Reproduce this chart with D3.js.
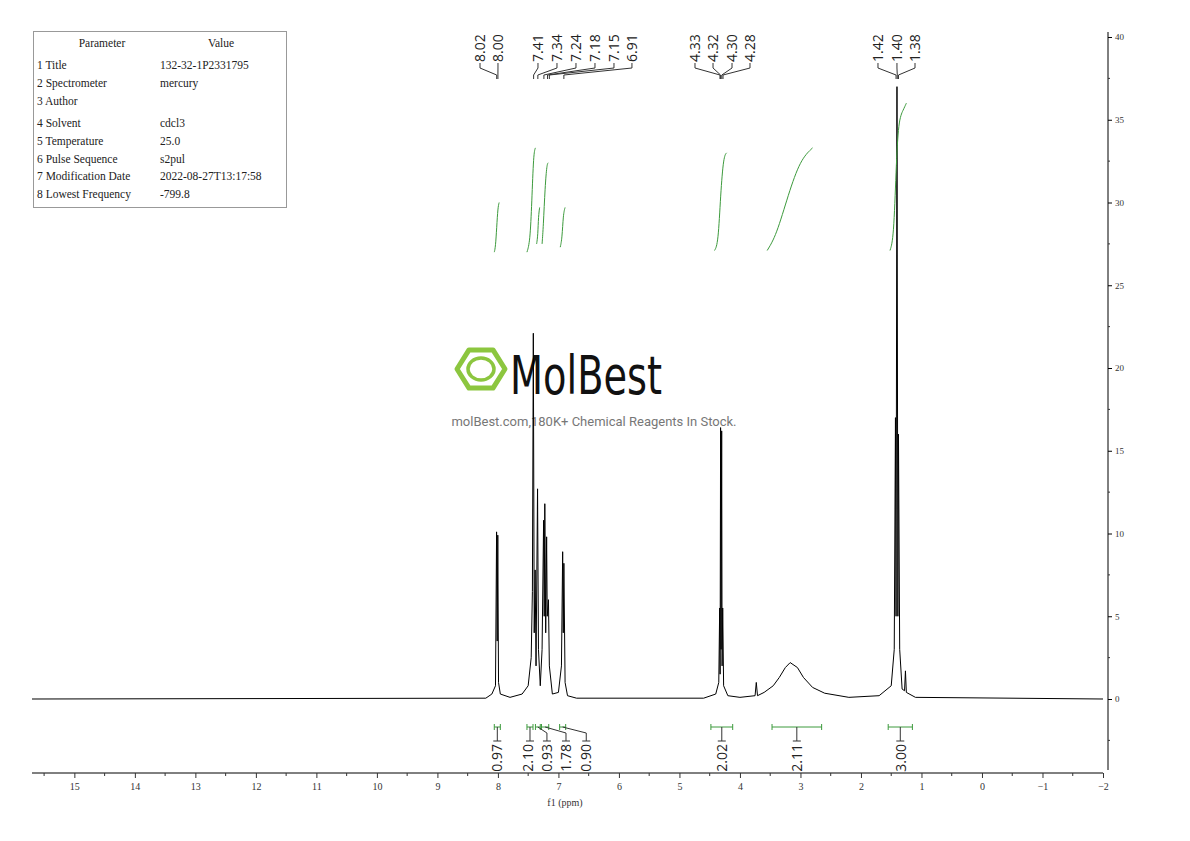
<!DOCTYPE html>
<html><head><meta charset="utf-8">
<script src="https://cdn.jsdelivr.net/npm/d3@7"></script>
<style>body{margin:0;background:#fff}</style></head>
<body><div id="chart"></div>
<script>
// spectrum vertices [ppm, intensity]
const spectrum = [[15.7,0],[8.2,0.05],[8.1,0.3],[8.04,0.8],[8.022,10.1],[8.012,3.5],[8.002,9.9],[7.99,1],[7.96,0.3],[7.8,0.1],[7.6,0.3],[7.5,0.8],[7.45,2.5],[7.43,6.5],[7.415,22.1],[7.40,4],[7.385,7.8],[7.37,2],[7.345,12.7],[7.33,3],[7.3,0.8],[7.27,3],[7.245,10.8],[7.235,5],[7.225,11.8],[7.21,4],[7.195,9.8],[7.185,5],[7.165,6],[7.15,2],[7.1,0.3],[7.0,0.4],[6.95,2],[6.93,8.9],[6.92,4],[6.91,8.2],[6.89,1],[6.85,0.2],[6.7,0.05],[4.6,0.05],[4.4,0.3],[4.35,1],[4.335,5.5],[4.328,1.5],[4.32,16.4],[4.312,3],[4.302,16.2],[4.295,2],[4.285,5.5],[4.27,0.8],[4.2,0.2],[4.0,0.1],[3.75,0.2],[3.73,1.0],[3.71,0.2],[3.6,0.4],[3.45,0.8],[3.35,1.3],[3.25,1.9],[3.17,2.2],[3.05,1.9],[2.95,1.3],[2.8,0.7],[2.6,0.35],[2.2,0.1],[1.7,0.2],[1.5,0.8],[1.45,3],[1.43,17],[1.42,5],[1.405,37],[1.39,5],[1.38,16],[1.36,3],[1.32,0.6],[1.28,0.5],[1.265,1.7],[1.25,0.4],[1.1,0.1],[-2,0]];

// integral curves (green), points [ppm, value]
const integralCurves = [
  [[8.06,27],[8.04,27.3],[8.02,28.5],[8.0,29.7],[7.98,30]],
  [[7.52,27],[7.47,27.6],[7.44,30],[7.41,33],[7.38,33.3]],
  [[7.36,27.5],[7.34,28],[7.33,29.2],[7.31,29.7]],
  [[7.27,27.5],[7.25,28.5],[7.22,31],[7.19,32.3],[7.17,32.4]],
  [[6.97,27.3],[6.94,27.8],[6.92,29.3],[6.89,29.7]],
  [[4.42,27.1],[4.36,27.5],[4.32,30.5],[4.27,32.8],[4.22,33]],
  [[3.55,27.1],[3.4,28],[3.2,30.5],[3.0,32.6],[2.8,33.3]],
  [[1.52,27.1],[1.46,27.8],[1.42,32],[1.38,35],[1.3,35.6],[1.25,36]]
];

// integral brackets: [from, to, label, labelPpm]
const integrals = [
  [8.06,7.96,"0.97",8.015],
  [7.52,7.42,"2.10",7.50],
  [7.38,7.30,"0.93",7.19],
  [7.28,7.16,"1.78",6.875],
  [6.98,6.88,"0.90",6.54],
  [4.48,4.12,"2.02",4.30],
  [3.47,2.65,"2.11",3.06],
  [1.55,1.15,"3.00",1.34]
];

// peak picking labels with peak ppm and label ppm position
const peakLabels = ["8.02","8.00","7.41","7.34","7.24","7.18","7.15","6.91","4.33","4.32","4.30","4.28","1.42","1.40","1.38"];
const peakPpm = [8.02,8.00,7.41,7.34,7.24,7.18,7.15,6.91,4.33,4.32,4.30,4.28,1.42,1.40,1.38];
const labelPpm = [8.296,7.999,7.338,7.024,6.710,6.396,6.082,5.785,4.743,4.445,4.131,3.834,1.719,1.405,1.107];

const params = [
  ["Parameter","Value"],
  ["1 Title","132-32-1P2331795"],
  ["2 Spectrometer","mercury"],
  ["3 Author",""],
  ["4 Solvent","cdcl3"],
  ["5 Temperature","25.0"],
  ["6 Pulse Sequence","s2pul"],
  ["7 Modification Date","2022-08-27T13:17:58"],
  ["8 Lowest Frequency","-799.8"]
];

const xTicks = d3.range(15, -3, -1);
const yTicks = d3.range(0, 41, 5);

const width = 1190, height = 841;
const svg = d3.select("#chart").append("svg").attr("width", width).attr("height", height);
const serif = "'Liberation Serif', 'DejaVu Serif', serif";
const sans = "'Open Sans', 'DejaVu Sans'";

const x = d3.scaleLinear().domain([15.7, -2]).range([32, 1103]);
const y = d3.scaleLinear().domain([0, 40]).range([699, 37]);

// bottom axis
const axB = svg.append("g").attr("transform", "translate(0,773)")
  .call(d3.axisBottom(x).tickValues(xTicks).tickSize(5).tickFormat(d3.format("d")));
axB.select(".domain").attr("d", `M32,0H1103`);
axB.selectAll("text").attr("font-family", serif).attr("font-size", 10).attr("fill", "#333").attr("dy", "0.9em");
axB.selectAll("line").attr("stroke", "#333");
svg.append("g").attr("transform", "translate(0,773)")
  .selectAll("line").data(d3.range(15.5, -2, -1)).join("line")
  .attr("x1", d => x(d)).attr("x2", d => x(d)).attr("y1", 0).attr("y2", 3).attr("stroke", "#333");
svg.append("text").attr("x", 565).attr("y", 806).attr("text-anchor", "middle")
  .attr("font-family", serif).attr("font-size", 10).attr("fill", "#333").text("f1 (ppm)");

// right axis
const axR = svg.append("g").attr("transform", "translate(1108,0)")
  .call(d3.axisRight(y).tickValues(yTicks).tickSize(4));
axR.select(".domain").attr("d", "M0,32V770");
axR.selectAll("text").attr("font-family", serif).attr("font-size", 9).attr("fill", "#333");
svg.append("g").selectAll("line").data(d3.range(-2.5, 41, 2.5).filter(d => d % 5 !== 0)).join("line")
  .attr("x1", 1108).attr("x2", 1110).attr("y1", d => y(d)).attr("y2", d => y(d)).attr("stroke", "#333");

// watermark
const wm = svg.append("g");
const hex = d3.range(6).map(i => { const a = Math.PI / 3 * i; return [481 + 24 * Math.cos(a), 369 + 22 * Math.sin(a)]; });
wm.append("polygon").attr("points", hex.map(p => p.join(",")).join(" "))
  .attr("fill", "none").attr("stroke", "#8cc63f").attr("stroke-width", 5).attr("stroke-linejoin", "round");
wm.append("ellipse").attr("cx", 481).attr("cy", 369).attr("rx", 13).attr("ry", 11)
  .attr("fill", "none").attr("stroke", "#8cc63f").attr("stroke-width", 3.5);
wm.append("text").attr("x", 510).attr("y", 394).attr("font-family", "'DejaVu Sans Condensed', 'DejaVu Sans'")
  .attr("font-size", 54).attr("textLength", 152).attr("lengthAdjust", "spacingAndGlyphs").attr("fill", "#111").text("MolBest");
wm.append("text").attr("x", 594).attr("y", 426).attr("text-anchor", "middle").attr("font-family", "Roboto, 'Liberation Sans'")
  .attr("font-size", 13).attr("fill", "#777").text("molBest.com,180K+ Chemical Reagents In Stock.");

// spectrum
svg.append("path").datum(spectrum)
  .attr("fill", "none").attr("stroke", "#000").attr("stroke-width", 1)
  .attr("d", d3.line().x(d => x(d[0])).y(d => y(d[1])));

// integral curves
const green = "#3c9a3c";
svg.append("g").selectAll("path").data(integralCurves).join("path")
  .attr("fill", "none").attr("stroke", green).attr("stroke-width", 1)
  .attr("d", d3.line().x(d => x(d[0])).y(d => y(d[1])).curve(d3.curveBasis));

// integral brackets
const ib = svg.append("g").attr("stroke", green).attr("fill", "none");
integrals.forEach(([a, b, lab, lp]) => {
  const by = 727, mid = (x(a) + x(b)) / 2;
  ib.append("line").attr("x1", x(a)).attr("x2", x(b)).attr("y1", by).attr("y2", by);
  ib.append("line").attr("x1", x(a)).attr("x2", x(a)).attr("y1", by - 3).attr("y2", by + 3);
  ib.append("line").attr("x1", x(b)).attr("x2", x(b)).attr("y1", by - 3).attr("y2", by + 3);
  const lx = x(lp);
  svg.append("path").attr("fill", "none").attr("stroke", "#333")
    .attr("d", Math.abs(lx - mid) < 3 ? `M${mid},${by}V741M${mid - 4},741H${mid + 4}` : `M${mid},${by}L${lx},733V741M${lx - 4},741H${lx + 4}`);
  svg.append("text").attr("transform", `translate(${lx + 5},744) rotate(-90)`)
    .attr("text-anchor", "end").attr("font-family", sans).attr("font-size", 14)
    .attr("fill", "#222").text(lab);
});

// peak labels
const pk = svg.append("g");
peakLabels.forEach((lab, i) => {
  const cx = x(labelPpm[i]), px = x(peakPpm[i]);
  pk.append("text").attr("transform", `translate(${cx + 5},62) rotate(-90)`)
    .attr("font-family", sans).attr("font-size", 14).attr("fill", "#222").text(lab);
  pk.append("path").attr("fill", "none").attr("stroke", "#333")
    .attr("d", `M${cx},63V68L${px},75V79`);
});

// parameter table
const tb = svg.append("g");
tb.append("rect").attr("x", 33.5).attr("y", 31.5).attr("width", 253).attr("height", 176)
  .attr("fill", "#fff").attr("stroke", "#999");
const rowY = [47, 69, 87, 105, 127, 145, 163, 180, 198];
params.forEach((r, i) => {
  const t = tb.append("g").attr("font-family", serif).attr("font-size", 11.5).attr("fill", "#222");
  if (i === 0) {
    t.append("text").attr("x", 102).attr("y", rowY[i]).attr("text-anchor", "middle").text(r[0]);
    t.append("text").attr("x", 221).attr("y", rowY[i]).attr("text-anchor", "middle").text(r[1]);
  } else {
    t.append("text").attr("x", 37).attr("y", rowY[i]).text(r[0]);
    t.append("text").attr("x", 160).attr("y", rowY[i]).text(r[1]);
  }
});
</script></body></html>
